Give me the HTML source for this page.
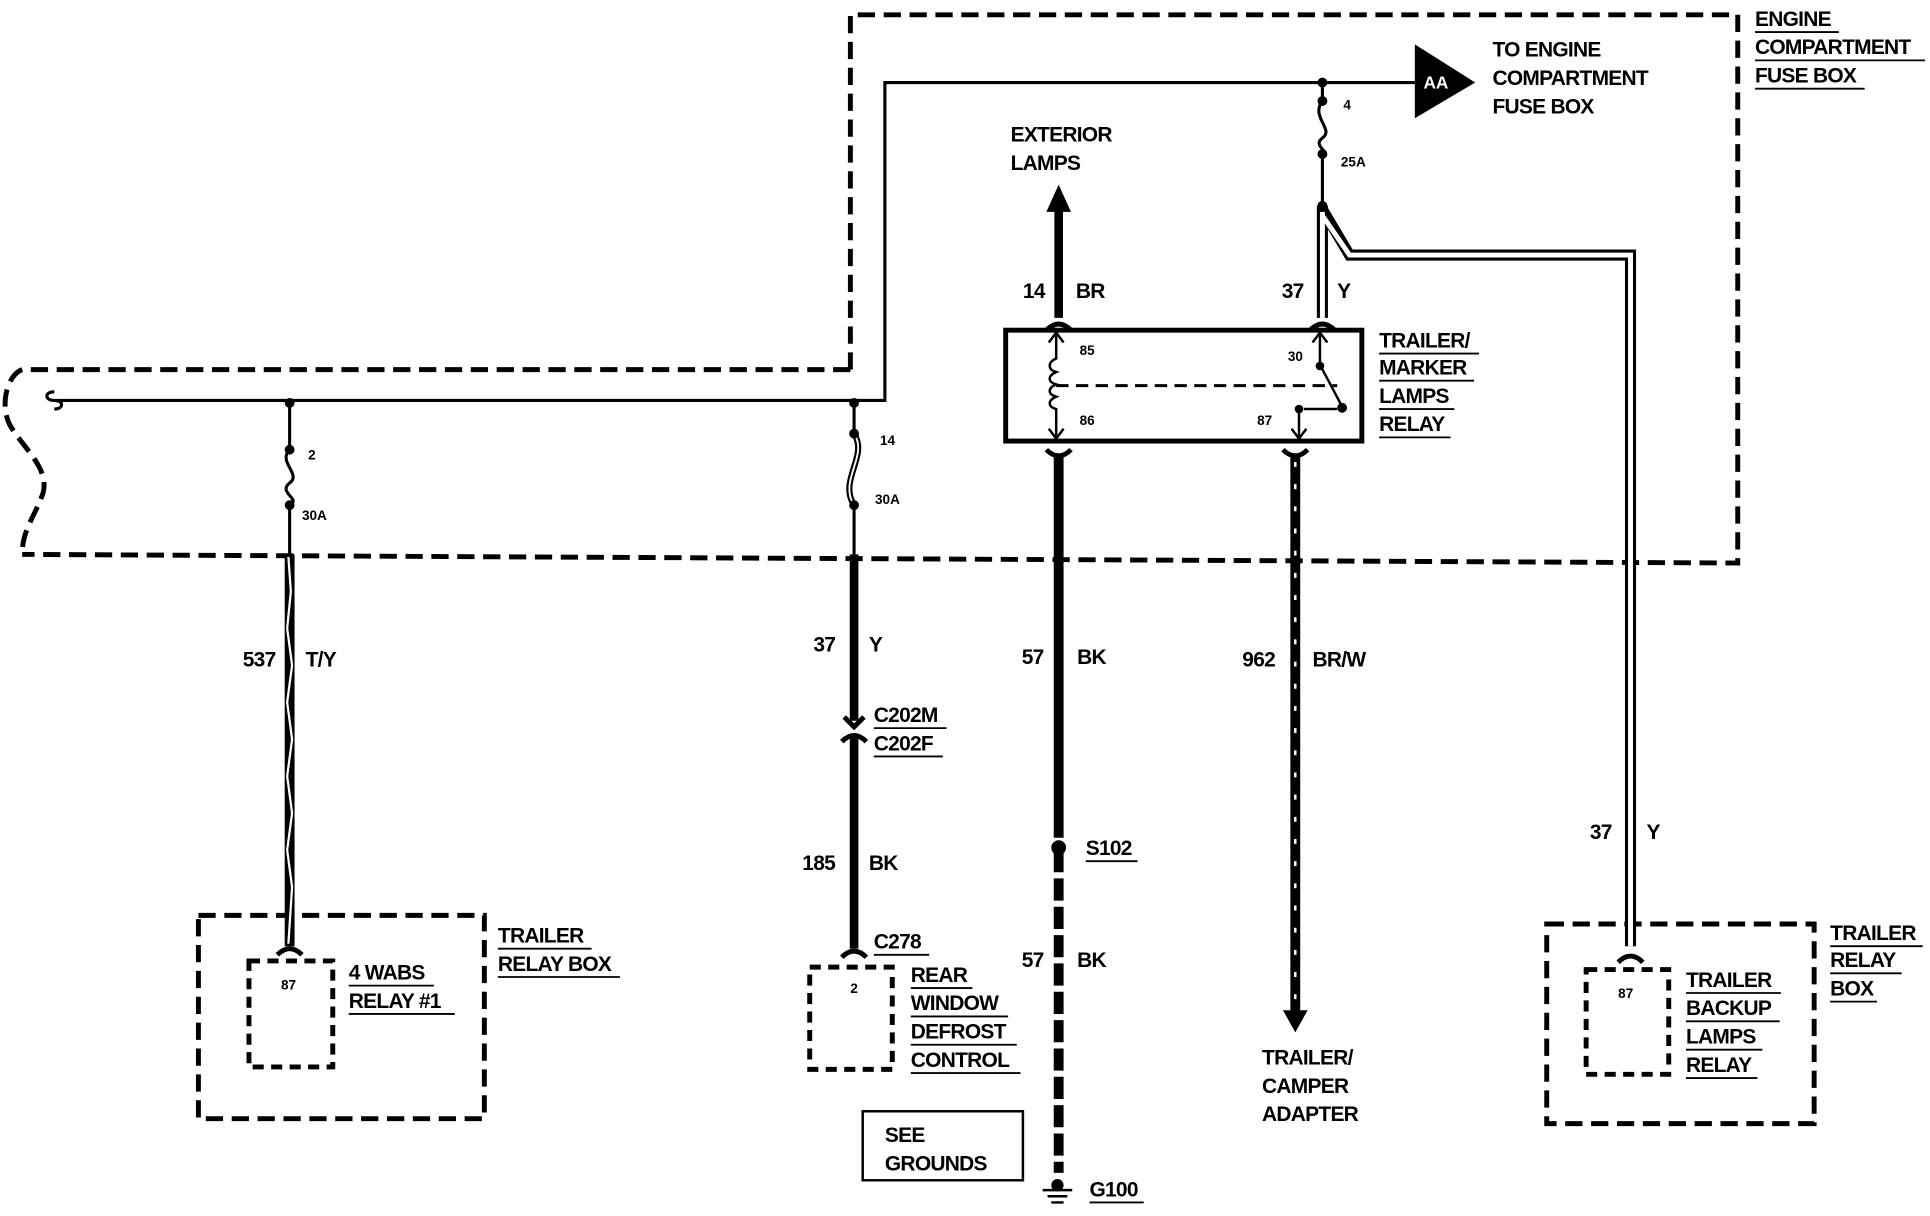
<!DOCTYPE html>
<html><head><meta charset="utf-8"><style>
html,body{margin:0;padding:0;background:#fff;}
svg{display:block}
text{font-family:"Liberation Sans",Arial,sans-serif;font-weight:bold;fill:#000;}
.l{font-size:17px;letter-spacing:-0.6px}
.s{font-size:11px}
</style></head><body>
<svg width="1930" height="1216" viewBox="0 0 1566 987" preserveAspectRatio="none" xmlns="http://www.w3.org/2000/svg">
<rect width="1566" height="987" fill="#fff"/>
<g fill="none" stroke="#000" stroke-width="4" stroke-dasharray="14,7">
<path d="M690,300 L690,12 L1410,12 L1410,457 L18,450"/>
<path d="M690,300 L18,300 C5,305 0,330 8,345 C20,365 40,380 35,400 C28,420 18,430 18,450"/>
<rect x="161" y="743" width="232" height="165"/>
<rect x="202" y="780" width="68" height="86" stroke-dasharray="9,6"/>
<rect x="657" y="785" width="67" height="83" stroke-dasharray="9,6"/>
<rect x="1255" y="750" width="217" height="162"/>
<rect x="1287" y="787" width="67" height="85" stroke-dasharray="9,6"/>
</g>
<g fill="none" stroke="#000" stroke-width="2.5">
<path d="M46,325 L718,325 L718,67 L1150,67"/>
<path d="M44,318 C36,318 36,325 44,325 C52,325 52,332 44,332"/>
<path d="M235,327 L235,365 M235,410 L235,450"/>
<path d="M235,365 C225,375 245,385 235,392 C225,400 245,405 235,410"/>
<path d="M693,327 L693,352 M693,410 L693,450"/>
<path d="M693,352 C705,370 680,390 693,410" stroke-width="5"/>
<path d="M693,352 C705,370 680,390 693,410" stroke="#fff" stroke-width="1.5"/>
<path d="M1073,67 L1073,82 M1073,125 L1073,167"/>
<path d="M1073,82 C1063,95 1083,105 1073,112 C1065,118 1078,122 1073,125"/>
</g>
<g fill="#000">
<circle cx="235" cy="327" r="4"/><circle cx="235" cy="365" r="4"/><circle cx="235" cy="410" r="4"/>
<circle cx="693" cy="327" r="4"/><circle cx="693" cy="352" r="4"/><circle cx="693" cy="410" r="4"/>
<circle cx="1073" cy="67" r="4"/><circle cx="1073" cy="82" r="4"/><circle cx="1073" cy="125" r="4"/><circle cx="1073" cy="167" r="4"/>
<polygon points="1148,36 1148,96 1197,67"/>
</g>
<text x="1155" y="72" style="font-size:14px;fill:#fff">AA</text>
<path d="M235,450 L235,768" stroke="#000" stroke-width="8"/>
<path d="M234,452 L236,480 L233,510 L237,540 L233,570 L237,600 L233,630 L237,660 L233,690 L237,720 L234,766" stroke="#fff" stroke-width="1.8" fill="none"/>
<path d="M693,450 L693,585 M693,599 L693,770" stroke="#000" stroke-width="7"/>
<path d="M859,258 L859,165" stroke="#000" stroke-width="7"/>
<polygon points="849,172 869,172 859,150" fill="#000"/>
<g fill="none" stroke="#000" stroke-width="9">
<path d="M1073,167 L1073,258"/>
<path d="M1073,170 L1095,207 L1323,207 L1323,768"/>
</g>
<g fill="none" stroke="#fff" stroke-width="4">
<path d="M1073,172 L1073,258"/>
<path d="M1073,175 L1095,207 L1323,207 L1323,768"/>
</g>
<rect x="816" y="268" width="289" height="90" fill="none" stroke="#000" stroke-width="4"/>
<g fill="none" stroke="#000" stroke-width="2">
<path d="M857,272 L857,291 C850,294 850,300 857,302 C850,305 850,310 857,312 C850,315 850,320 857,322 C850,325 850,330 857,332 L857,354"/>
<path d="M851,278 L857,270 L863,278 M851,348 L857,356 L863,348"/>
<path d="M857,313 L1085,313" stroke-dasharray="10,6" stroke-width="2.5"/>
<path d="M1071,272 L1071,296 L1089,330 M1065,278 L1071,270 L1077,278"/>
<path d="M1054,332 L1054,355 M1048,348 L1054,356 L1060,348 M1058,332 L1085,332" />
</g>
<g fill="#000"><circle cx="1071" cy="297" r="3.5"/><circle cx="1089" cy="331" r="4"/><circle cx="1054" cy="332" r="3.5"/></g>
<text x="876" y="288" class="s">85</text><text x="876" y="345" class="s">86</text>
<text x="1045" y="293" class="s">30</text><text x="1020" y="345" class="s">87</text>
<g fill="none" stroke="#000" stroke-width="4">
<path d="M849,268 Q859,258 869,268"/><path d="M1063,268 Q1073,258 1083,268"/>
<path d="M849,365 Q859,375 869,365"/><path d="M1041,365 Q1051,375 1061,365"/>
<path d="M225,775 Q235,765 245,775"/><path d="M683,777 Q693,767 703,777"/>
<path d="M1313,781 Q1323,771 1333,781"/>
<path d="M685,582 L693,590 L701,582"/><path d="M683,602 Q693,592 703,602"/>
</g>
<path d="M859,368 L859,680" stroke="#000" stroke-width="8"/>
<path d="M859,690 L859,952" stroke="#000" stroke-width="8" stroke-dasharray="18,5"/>
<circle cx="859" cy="688" r="6" fill="#000"/>
<circle cx="858" cy="962" r="5" fill="#000"/>
<path d="M846,966 L870,966 M850,971 L866,971 M853,976 L863,976" stroke="#000" stroke-width="2"/>
<path d="M1051,368 L1051,822" stroke="#000" stroke-width="8"/>
<path d="M1051,375 L1051,815" stroke="#fff" stroke-width="2" stroke-dasharray="4,14"/>
<polygon points="1041,820 1061,820 1051,838" fill="#000"/>
<rect x="700" y="902" width="130" height="56" fill="none" stroke="#000" stroke-width="2"/>
<g class="l">
<text x="1424" y="21">ENGINE</text><text x="1424" y="44">COMPARTMENT</text><text x="1424" y="67">FUSE BOX</text>
<text x="1211" y="46">TO ENGINE</text><text x="1211" y="69">COMPARTMENT</text><text x="1211" y="92">FUSE BOX</text>
<text x="820" y="115">EXTERIOR</text><text x="820" y="138">LAMPS</text>
<text x="830" y="242">14</text><text x="873" y="242">BR</text>
<text x="1040" y="242">37</text><text x="1085" y="242">Y</text>
<text x="1119" y="282">TRAILER/</text><text x="1119" y="304">MARKER</text><text x="1119" y="327">LAMPS</text><text x="1119" y="350">RELAY</text>
<text x="197" y="541">537</text><text x="248" y="541">T/Y</text>
<text x="660" y="529">37</text><text x="705" y="529">Y</text>
<text x="709" y="586">C202M</text><text x="709" y="609">C202F</text>
<text x="651" y="706">185</text><text x="705" y="706">BK</text>
<text x="709" y="770">C278</text>
<text x="829" y="539">57</text><text x="874" y="539">BK</text>
<text x="829" y="785">57</text><text x="874" y="785">BK</text>
<text x="881" y="694">S102</text>
<text x="884" y="971">G100</text>
<text x="1008" y="541">962</text><text x="1065" y="541">BR/W</text>
<text x="1290" y="681">37</text><text x="1336" y="681">Y</text>
<text x="404" y="765">TRAILER</text><text x="404" y="788">RELAY BOX</text>
<text x="283" y="795">4 WABS</text><text x="283" y="818">RELAY #1</text>
<text x="739" y="797">REAR</text><text x="739" y="820">WINDOW</text><text x="739" y="843">DEFROST</text><text x="739" y="866">CONTROL</text>
<text x="718" y="927">SEE</text><text x="718" y="950">GROUNDS</text>
<text x="1024" y="864">TRAILER/</text><text x="1024" y="887">CAMPER</text><text x="1024" y="910">ADAPTER</text>
<text x="1485" y="763">TRAILER</text><text x="1485" y="785">RELAY</text><text x="1485" y="808">BOX</text>
<text x="1368" y="801">TRAILER</text><text x="1368" y="824">BACKUP</text><text x="1368" y="847">LAMPS</text><text x="1368" y="870">RELAY</text>
</g>
<g class="s">
<text x="1090" y="89">4</text><text x="1088" y="135">25A</text>
<text x="250" y="373">2</text><text x="245" y="422">30A</text>
<text x="714" y="361">14</text><text x="710" y="409">30A</text>
<text x="228" y="803">87</text><text x="690" y="806">2</text><text x="1313" y="810">87</text>
</g>
<g stroke="#000" stroke-width="1.5">
<path d="M1424,26 H1492 M1424,49 H1562 M1424,72 H1513"/>
<path d="M1119,287 H1200 M1119,309 H1196 M1119,332 H1180 M1119,355 H1177"/>
<path d="M709,591 H768 M709,614 H765 M709,775 H754 M881,699 H923 M884,976 H928"/>
<path d="M404,770 H480 M404,793 H503 M283,800 H352 M283,823 H369"/>
<path d="M739,802 H789 M739,825 H818 M739,848 H825 M739,871 H828"/>
<path d="M1485,768 H1560 M1485,790 H1543 M1485,813 H1523"/>
<path d="M1368,806 H1445 M1368,829 H1444 M1368,852 H1430 M1368,875 H1426"/>
</g>
</svg>
</body></html>
